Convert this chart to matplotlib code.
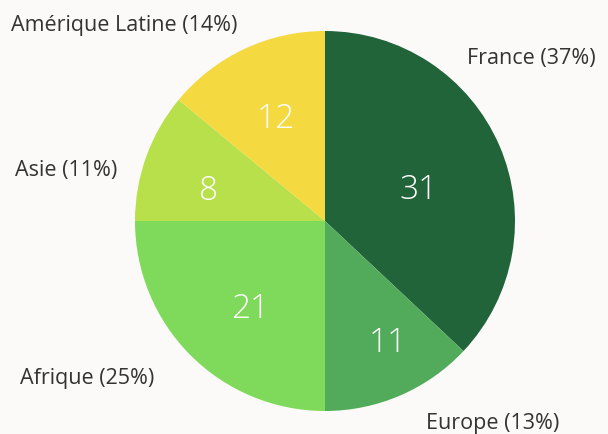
import matplotlib.pyplot as plt
import numpy as np

# Données
regions = ['France', 'Europe', 'Afrique', 'Asie', 'Amérique Latine']
effectifs = [31, 11, 21, 8, 12]
pourcentages = [37, 13, 25, 11, 14]

couleurs = ['#21643a', '#52ab5a', '#7fd95a', '#b7e04a', '#f4d940']
fond = '#fcfaf8'

# Position des étiquettes extérieures (pixels, gauche / centre vertical)
pos_etiquettes = [(467, 56), (426, 421), (20, 376), (15, 168), (11, 23)]
# placement des valeurs : distance relative au centre, décalage angulaire (degrés)
dist_valeurs = [0.53, 0.70, 0.59, 0.64, 0.62]
decal_angles = [-2.4, 4.9, 3.2, 3.1, -0.6]

W, H = 608, 435
fig = plt.figure(figsize=(W / 100, H / 100), dpi=100, facecolor=fond)

cx_, cy_, r = 325, 222, 190
ax = fig.add_axes([(cx_ - r) / W, (H - cy_ - r) / H, 2 * r / W, 2 * r / H])
ax.set_facecolor(fond)

wedges, _ = ax.pie(pourcentages, colors=couleurs, startangle=90, counterclock=False,
                   wedgeprops=dict(linewidth=0))

# Valeurs dans les parts
for w, n, d, da in zip(wedges, effectifs, dist_valeurs, decal_angles):
    ang = np.deg2rad((w.theta1 + w.theta2) / 2 + da)
    ax.text(d * np.cos(ang), d * np.sin(ang), str(n), ha='center', va='center_baseline',
            color='white', fontsize=24, family='Open Sans', fontweight='light')

ax.set_xlim(-1, 1)
ax.set_ylim(-1, 1)
ax.set_axis_off()

for nom, p, (x, y) in zip(regions, pourcentages, pos_etiquettes):
    fig.text(x / W, 1 - y / H, f'{nom} ({p}%)', ha='left', va='center_baseline',
             fontsize=15.5, color='#333333', family='Open Sans')

fig.savefig('out.png', dpi=100, facecolor=fond)
